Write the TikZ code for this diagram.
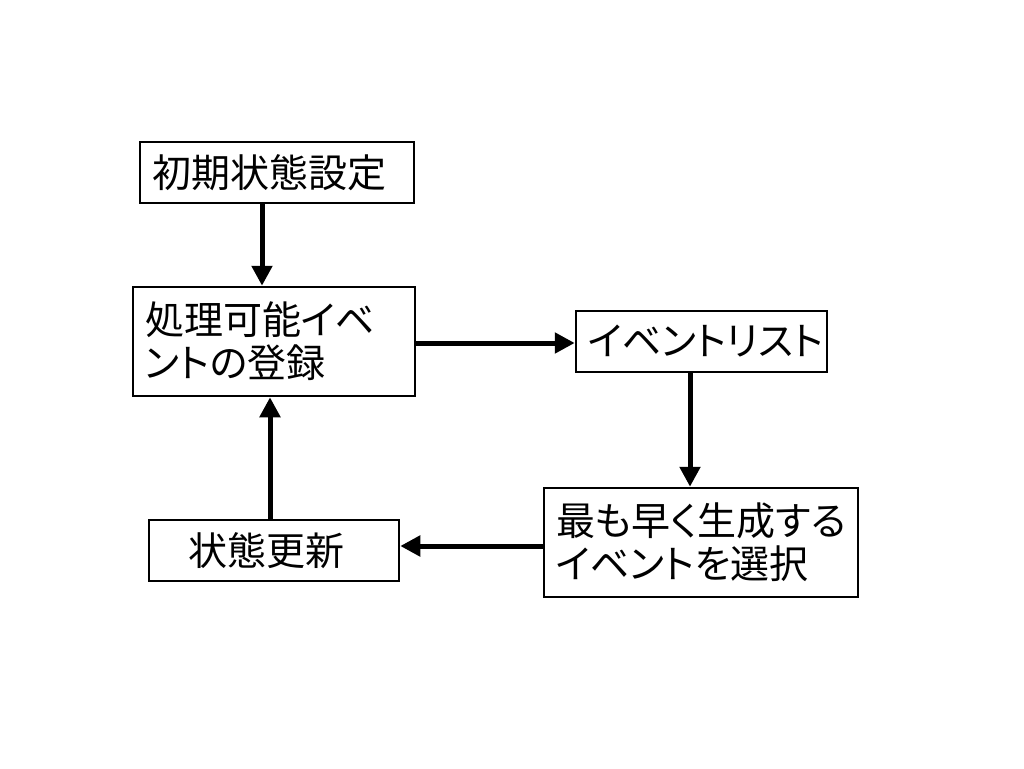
\documentclass[tikz,border=0pt]{standalone}
\usepackage{fontspec}
\newfontfamily\jpfont[RawFeature=+palt]{Noto Sans CJK JP}
\usetikzlibrary{arrows.meta}
\begin{document}
\begin{tikzpicture}[x=1pt,y=-1pt,
  box/.style={draw=black, line width=2.5pt, fill=white, inner xsep=12pt, inner ysep=0pt,
    font=\jpfont\fontsize{39}{43}\selectfont, anchor=center},
  flow/.style={line width=5pt, -{Triangle[length=20pt,width=20pt]}, shorten >=0pt}
]
\useasboundingbox (0,0) rectangle (1024,768);
\fill[white] (0,0) rectangle (1024,768);
\node[box, minimum width=274pt, minimum height=61pt, text width=250pt, align=left] (init) at (277,172.5) {初期状態設定};
\node[box, minimum width=282pt, minimum height=109pt, text width=258pt, align=left] (reg) at (274,341.5) {処理可能イベ\\ントの登録};
\node[box, minimum width=251pt, minimum height=61pt, text width=227pt, align=left] (list) at (701.5,341.5) {イベントリスト};
\node[box, minimum width=314pt, minimum height=109pt, text width=290pt, align=left] (sel) at (701,542.5) {最も早く生成する\\イベントを選択};
\node[box, inner xsep=39pt, minimum width=250pt, minimum height=61pt, text width=172pt, align=left] (upd) at (274,550.5) {状態更新};
\draw[flow] (init.south -| 262,0) -- (reg.north -| 262,0);
\draw[flow] (reg.east |- 0,343) -- (list.west |- 0,343);
\draw[flow] (list.south -| 690,0) -- (sel.north -| 690,0);
\draw[flow] (sel.west |- 0,546) -- (upd.east |- 0,546);
\draw[flow] (upd.north -| 270,0) -- (reg.south -| 270,0);
\end{tikzpicture}
\end{document}
